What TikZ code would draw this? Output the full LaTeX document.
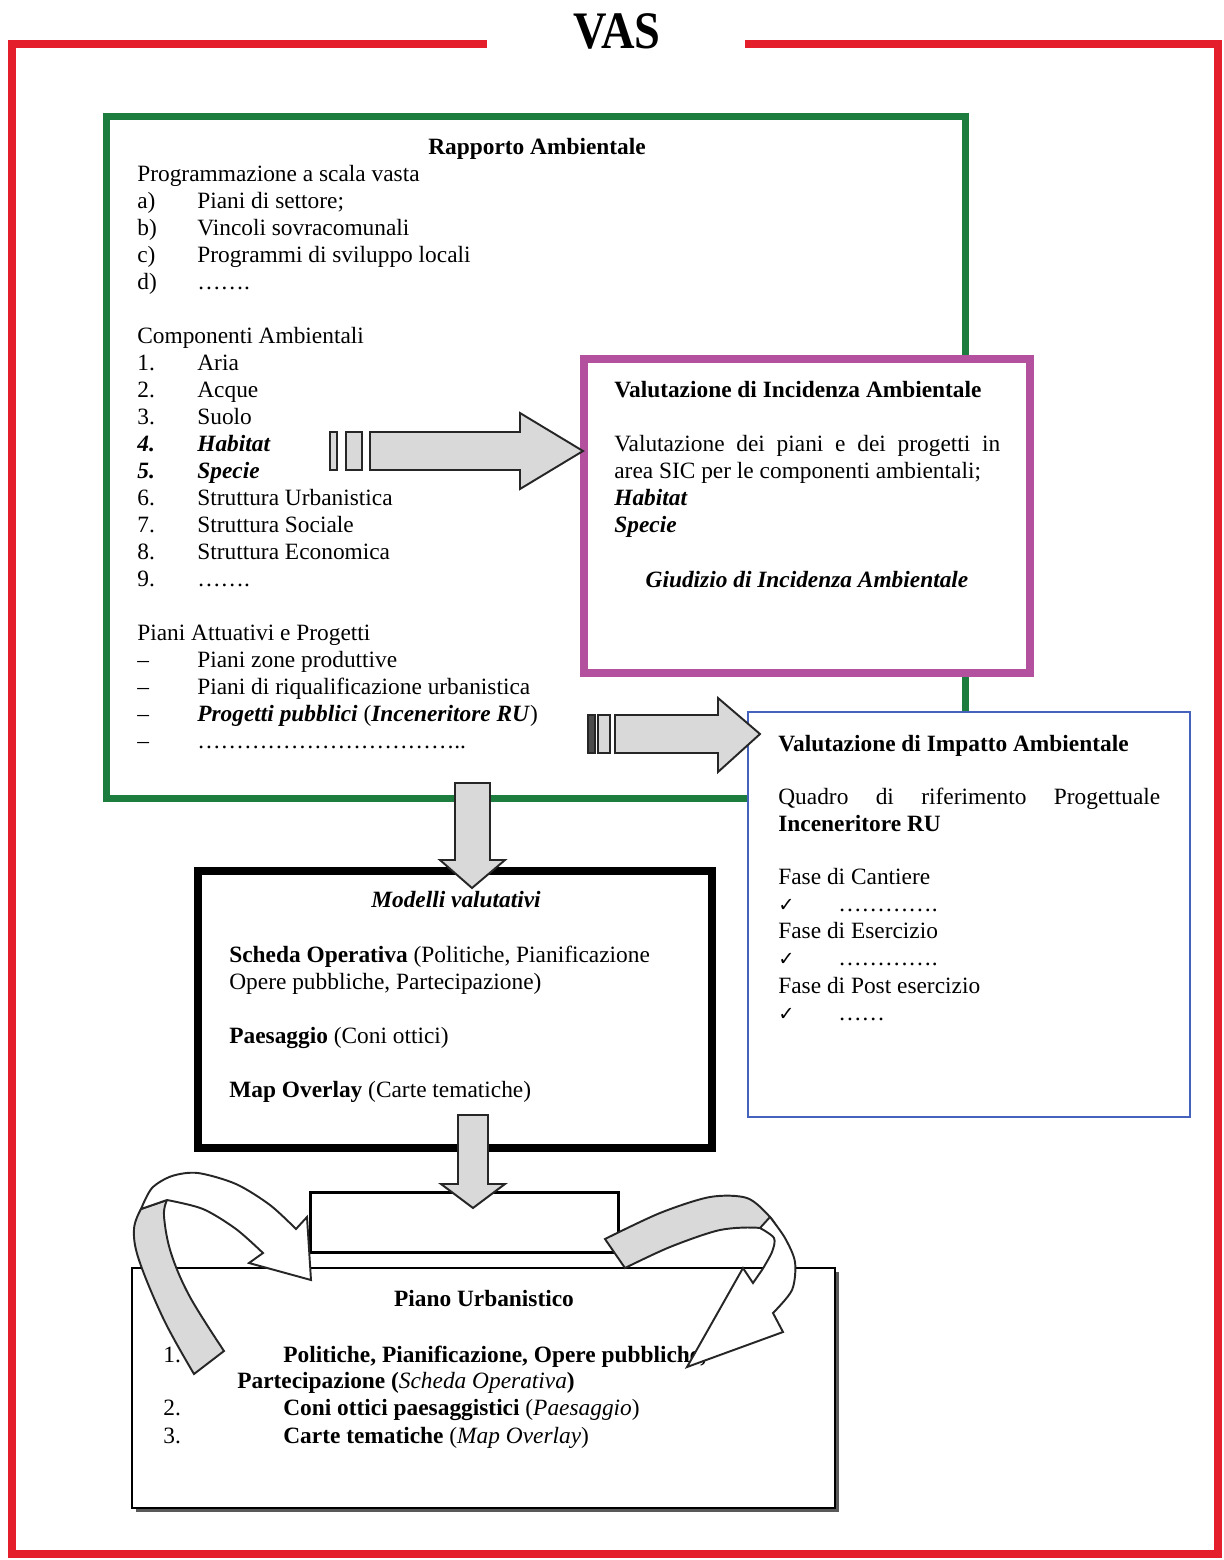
\documentclass[tikz,border=0pt]{standalone}
\usepackage{fontspec}
\setmainfont{Liberation Serif}
\newfontfamily\symfont{DejaVu Sans}
\usetikzlibrary{positioning}
\definecolor{vasred}{HTML}{E41E2B}
\definecolor{ragreen}{HTML}{1D7D3F}
\definecolor{vincmag}{HTML}{B4519F}
\definecolor{viablue}{HTML}{4562BD}
\definecolor{arrgray}{HTML}{D9D9D9}

\begin{document}
\begin{tikzpicture}[x=.02cm,y=-.02cm,
  txt/.style={anchor=base west,inner sep=0pt,font=\fontsize{13.3}{15.4}\selectfont},
  ctxt/.style={txt,anchor=base},
  box/.style={draw=#1,fill=white,inner sep=0pt},
  barrow/.style={draw=black!85,fill=arrgray,line width=1.1pt,line join=miter}]
\useasboundingbox (0,0) rectangle (1224,1560);
% cornice VAS
\draw[vasred,line width=4.5pt] (487,44) -| (12,1554) -| (1218,44) -- (745,44);
\node[inner sep=0pt,anchor=base,font=\fontsize{30}{32}\selectfont\bfseries] (vas) at (617,48) {\scalebox{.88}[1]{VAS}};
% riquadri
\node[box=ragreen,line width=4pt,minimum width=17.2cm,minimum height=13.66cm] (rapporto) at (536,457.5) {};
\node[box=vincmag,line width=4.4pt,minimum width=8.92cm,minimum height=6.28cm] (vinca) at (807,516) {};
\node[box=viablue,line width=1.5pt,minimum width=8.84cm,minimum height=8.1cm] (via) at (969,914.5) {};
% Rapporto Ambientale
\node[ctxt] (ratit) at (537,154) {\textbf{Rapporto Ambientale}};
\node[txt] (prog) at (137,181) {Programmazione a scala vasta};
\foreach \y/\lab/\txt in {208/a)/Piani di settore;,235/b)/Vincoli sovracomunali,262/c)/Programmi di sviluppo locali,289/d)/…….}
  {\node[txt] (pl\y) at (137,\y) {\lab};\node[txt] (pt\y) at (197,\y) {\txt};}
\node[txt] (comp) at (137,343) {Componenti Ambientali};
\foreach \y/\lab/\txt in {370/1./Aria,397/2./Acque,424/3./Suolo,451/\textbf{\textit{4.}}/\textbf{\textit{Habitat}},478/\textbf{\textit{5.}}/\textbf{\textit{Specie}},505/6./Struttura Urbanistica,532/7./Struttura Sociale,559/8./Struttura Economica,586/9./…….}
  {\node[txt] (cl\y) at (137,\y) {\lab};\node[txt] (ct\y) at (197,\y) {\txt};}
\node[txt] (attu) at (137,640) {Piani Attuativi e Progetti};
\foreach \y/\txt in {667/Piani zone produttive,694/Piani di riqualificazione urbanistica,721/\textbf{\textit{Progetti pubblici}} (\textbf{\textit{Inceneritore RU}}),748/……………………………..}
  {\node[txt] (al\y) at (137,\y) {--};\node[txt] (at\y) at (197,\y) {\txt};}
% Incidenza
\node[txt] (vitit) at (614,397) {\textbf{Valutazione di Incidenza Ambientale}};
\node[txt] (vi1) at (614,451) {\makebox[7.72cm][s]{Valutazione dei piani e dei progetti in}};
\node[txt] (vi2) at (614,478) {area SIC per le componenti ambientali;};
\node[txt] (vi3) at (614,505) {\textbf{\textit{Habitat}}};
\node[txt] (vi4) at (614,532) {\textbf{\textit{Specie}}};
\node[ctxt] (giud) at (807,587) {\textbf{\textit{Giudizio di Incidenza Ambientale}}};
% Impatto
\node[txt] (viatit) at (778,751) {\textbf{Valutazione di Impatto Ambientale}};
\node[txt] (via1) at (778,804) {\makebox[7.64cm][s]{Quadro di riferimento Progettuale}};
\node[txt] (via2) at (778,831) {\textbf{Inceneritore RU}};
\foreach \y/\fase/\pt in {884/Cantiere/………….,938/Esercizio/………….,993/Post esercizio/……}
  {\node[txt] (fa\y) at (778,\y) {Fase di \fase};
   \node[txt] (ck\y) at (778,\y+27) {\symfont\fontsize{11}{12}\selectfont ✓};
   \node[txt] (pu\y) at (838,\y+27) {\pt};}
% frecce verso VIncA e VIA
\draw[barrow] (330,432) rectangle (337,470);
\draw[barrow] (346,432) rectangle (362,470);
\draw[barrow] (370,432) -- (520,432) -- (520,413) -- (583,451) -- (520,489) -- (520,470) -- (370,470) -- cycle;
\draw[barrow,fill=black!70] (588,715) rectangle (595,753);
\draw[barrow] (598,715) rectangle (610,753);
\draw[barrow] (615,715) -- (718,715) -- (718,698) -- (760,734) -- (718,772) -- (718,753) -- (615,753) -- cycle;
% Modelli valutativi
\node[box=black,line width=4.6pt,minimum width=10.28cm,minimum height=5.54cm] (modelli) at (455,1009.5) {};
\node[ctxt] (modtit) at (456,907) {\textbf{\textit{Modelli valutativi}}};
\node[txt] (mod1) at (229,962) {\textbf{Scheda Operativa} (Politiche, Pianificazione};
\node[txt] (mod2) at (229,989) {Opere pubbliche, Partecipazione)};
\node[txt] (mod3) at (229,1043) {\textbf{Paesaggio} (Coni ottici)};
\node[txt] (mod4) at (229,1097) {\textbf{Map Overlay} (Carte tematiche)};
\draw[barrow] (455,783) -- (490,783) -- (490,860) -- (505,860) -- (472,888) -- (440,860) -- (455,860) -- cycle;
% sintesi e Piano Urbanistico
\node[box=black,line width=1.7pt,minimum width=6.18cm,minimum height=1.2cm] (sintesi) at (464.5,1222) {};
\draw[barrow] (458,1115) -- (488,1115) -- (488,1184) -- (505,1184) -- (473,1208) -- (441,1184) -- (458,1184) -- cycle;
\fill[black!65] (136,1272) rectangle (839,1512);
\node[box=black,line width=1.4pt,minimum width=14.06cm,minimum height=4.8cm] (piano) at (483.5,1388) {};
\node[ctxt] (pitit) at (484,1306) {\textbf{Piano Urbanistico}};
\node[txt] (pn1) at (163,1362) {1.};
\node[txt] (pi1) at (283,1362) {\textbf{Politiche, Pianificazione, Opere pubbliche,}};
\node[txt] (pi1b) at (237,1388) {\textbf{Partecipazione (}\textit{Scheda Operativa}\textbf{)}};
\node[txt] (pn2) at (163,1415) {2.};
\node[txt] (pi2) at (283,1415) {\textbf{Coni ottici paesaggistici} (\textit{Paesaggio})};
\node[txt] (pn3) at (163,1443) {3.};
\node[txt] (pi3) at (283,1443) {\textbf{Carte tematiche} (\textit{Map Overlay})};
% frecce curve
\draw[barrow] plot[smooth,tension=.6] coordinates {(194,1374) (164,1320) (139,1260) (134,1229) (141,1209)}
  -- plot[smooth,tension=.6] coordinates {(167,1200) (164,1216) (171,1253) (190,1297) (224,1351)} -- cycle;
\draw[barrow,fill=white] plot[smooth] coordinates {(141,1209) (152,1188) (172,1176) (198,1173) (236,1184) (270,1205) (296,1229)}
  -- (307,1217) -- (311,1280) -- (249,1263) -- plot[smooth] coordinates {(263,1253) (236,1229) (203,1209) (167,1200)} -- cycle;
\draw[barrow] plot[smooth] coordinates {(605,1239) (660,1213) (710,1197) (747,1198) (770,1217) (782,1236)}
  -- plot[smooth] coordinates {(777,1237) (760,1228) (720,1230) (670,1247) (625,1268)} -- cycle;
\draw[barrow,fill=white] plot[smooth] coordinates {(770,1217) (785,1238) (795,1262) (792,1290) (773,1313)}
  -- (783,1332) -- (687,1367) -- (743,1268) -- (753,1283) -- plot[smooth] coordinates {(762,1270) (772,1252) (774,1238) (760,1228)} -- cycle;
\end{tikzpicture}
\end{document}
